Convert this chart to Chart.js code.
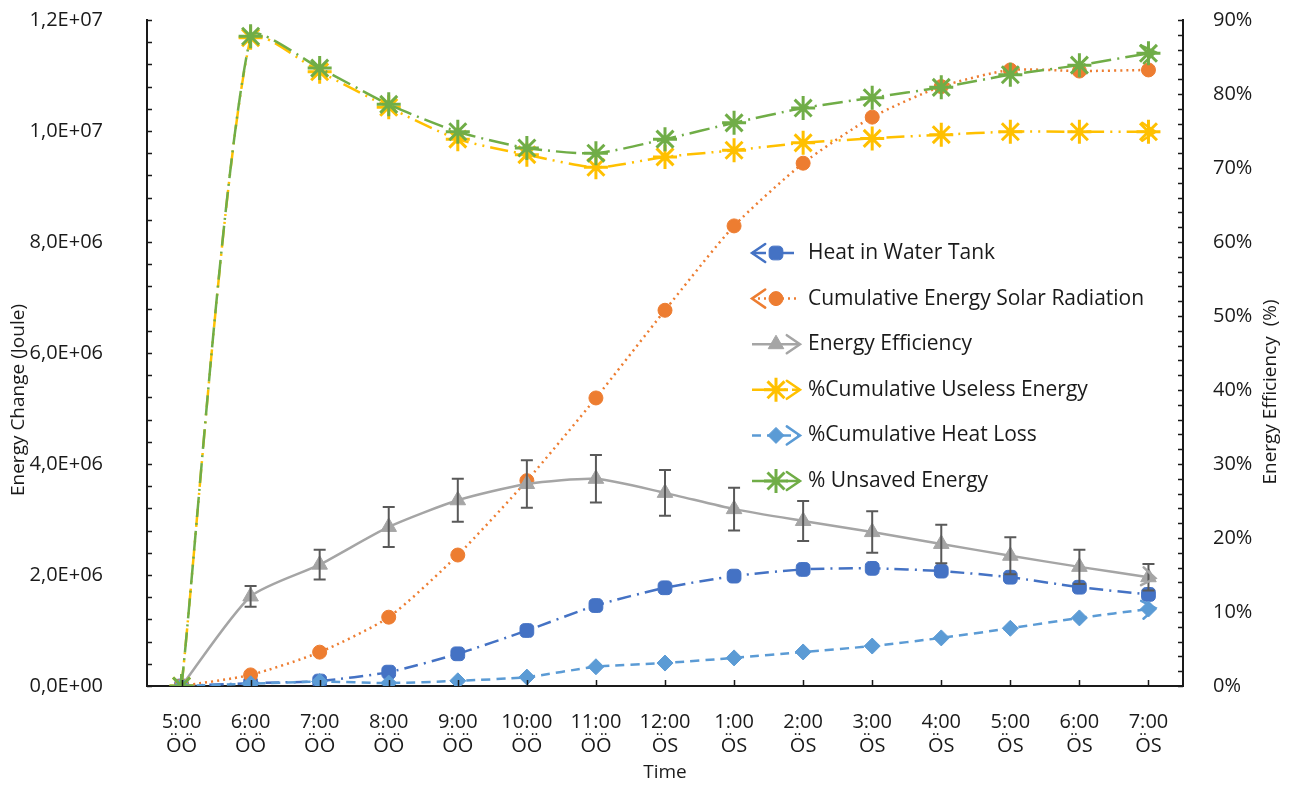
<!DOCTYPE html>
<html>
<head>
<meta charset="utf-8">
<script src="https://cdn.jsdelivr.net/npm/chart.js@4.4.0/dist/chart.umd.min.js"></script>
<style>
  html, body { margin: 0; padding: 0; background: #fff; }
  #wrap { width: 1296px; height: 785px; }
</style>
</head>
<body>
<div id="wrap"><canvas id="energyChart" width="1296" height="785"></canvas></div>
<script>
// categories (hour of day, Turkish ÖÖ = AM, ÖS = PM)
const hours = [
  ["5:00", "ÖÖ"], ["6:00", "ÖÖ"], ["7:00", "ÖÖ"], ["8:00", "ÖÖ"], ["9:00", "ÖÖ"],
  ["10:00", "ÖÖ"], ["11:00", "ÖÖ"], ["12:00", "ÖS"], ["1:00", "ÖS"], ["2:00", "ÖS"],
  ["3:00", "ÖS"], ["4:00", "ÖS"], ["5:00", "ÖS"], ["6:00", "ÖS"], ["7:00", "ÖS"]
];

// left axis, Joule
const heatInTank = [0, 0.05e6, 0.09e6, 0.25e6, 0.58e6, 1.0e6, 1.45e6, 1.77e6, 1.98e6, 2.1e6, 2.12e6, 2.07e6, 1.96e6, 1.78e6, 1.65e6];
const solarCumulative = [0, 0.2e6, 0.61e6, 1.24e6, 2.36e6, 3.7e6, 5.19e6, 6.77e6, 8.29e6, 9.42e6, 10.25e6, 10.8e6, 11.1e6, 11.08e6, 11.1e6];

// right axis, percent
const efficiency = [0, 12.1, 16.4, 21.5, 25.1, 27.3, 28.0, 26.1, 23.9, 22.3, 20.8, 19.2, 17.6, 16.1, 14.7];
const efficiencyErr = [0, 1.4, 2.0, 2.7, 2.9, 3.2, 3.2, 3.1, 2.9, 2.7, 2.8, 2.6, 2.5, 2.3, 1.8];
const uselessPct = [0, 87.6, 83.0, 78.2, 73.9, 71.8, 70.1, 71.5, 72.4, 73.4, 74.0, 74.5, 74.9, 74.9, 74.9];
const heatLossPct = [0, 0.3, 0.6, 0.4, 0.7, 1.2, 2.6, 3.1, 3.8, 4.6, 5.4, 6.5, 7.8, 9.2, 10.4];
const unsavedPct = [0, 87.8, 83.5, 78.6, 74.9, 72.7, 72.0, 73.9, 76.1, 78.1, 79.5, 80.9, 82.6, 83.9, 85.5];

// axis ticks
const leftMax = 1.2e7, leftStep = 2e6, leftMinor = 4e5;
const rightMax = 90, rightStep = 10, rightMinor = 2;

const FONT = "'Open Sans', 'Noto Sans', sans-serif";
const TEXT = "#1a1a1a";

function sci(v) {
  if (v === 0) return "0,0E+00";
  const e = Math.floor(Math.log10(v) + 1e-9);
  const m = v / Math.pow(10, e);
  return m.toFixed(1).replace(".", ",") + "E+" + String(e).padStart(2, "0");
}

function chevron(ctx, x, y, ang, color, width) {
  const len = 16, spread = 0.6;
  ctx.save();
  ctx.setLineDash([]);
  ctx.strokeStyle = color;
  ctx.lineWidth = width;
  ctx.lineCap = "round";
  ctx.beginPath();
  ctx.moveTo(x - len * Math.cos(ang - spread), y - len * Math.sin(ang - spread));
  ctx.lineTo(x, y);
  ctx.lineTo(x - len * Math.cos(ang + spread), y - len * Math.sin(ang + spread));
  ctx.stroke();
  ctx.restore();
}

// error bars on the efficiency series
const errorBars = {
  id: "errorBars",
  afterDatasetsDraw(chart) {
    const ctx = chart.ctx;
    chart.data.datasets.forEach((ds, i) => {
      if (!ds.errors) return;
      const meta = chart.getDatasetMeta(i);
      const sc = chart.scales[ds.yAxisID];
      ctx.save();
      ctx.strokeStyle = "#595959";
      ctx.lineWidth = 2;
      meta.data.forEach((pt, j) => {
        const e = ds.errors[j];
        if (!e) return;
        const top = sc.getPixelForValue(ds.data[j] + e);
        const bot = sc.getPixelForValue(ds.data[j] - e);
        ctx.beginPath();
        ctx.moveTo(pt.x, top); ctx.lineTo(pt.x, bot);
        ctx.moveTo(pt.x - 6, top); ctx.lineTo(pt.x + 6, top);
        ctx.moveTo(pt.x - 6, bot); ctx.lineTo(pt.x + 6, bot);
        ctx.stroke();
      });
      ctx.restore();
    });
  }
};

// open arrow heads on line ends
const lineArrows = {
  id: "lineArrows",
  afterDatasetsDraw(chart) {
    const ctx = chart.ctx;
    chart.data.datasets.forEach((ds, i) => {
      const pts = chart.getDatasetMeta(i).data;
      const n = pts.length;
      if (ds.arrowEnd) {
        const a = Math.atan2(pts[n - 1].y - pts[n - 2].y, pts[n - 1].x - pts[n - 2].x);
        chevron(ctx, pts[n - 1].x + 7 * Math.cos(a), pts[n - 1].y + 7 * Math.sin(a), a, ds.borderColor, 2.5);
      }
    });
  }
};

// inward tick marks, axis titles, legend inside the plot
const decorations = {
  id: "decorations",
  afterDraw(chart) {
    const { ctx, chartArea: a, scales } = chart;
    ctx.save();
    ctx.strokeStyle = "#1a1a1a";
    ctx.lineWidth = 1.5;
    ctx.beginPath();
    for (let v = 0; v <= leftMax + 1; v += leftMinor) {
      const p = Math.round(scales.y.getPixelForValue(v)) + 0.5;
      ctx.moveTo(a.left, p); ctx.lineTo(a.left + 5, p);
    }
    for (let v = 0; v <= rightMax + 0.01; v += rightMinor) {
      const p = Math.round(scales.y1.getPixelForValue(v)) + 0.5;
      ctx.moveTo(a.right, p); ctx.lineTo(a.right - 5, p);
    }
    hours.forEach((h, i) => {
      const p = Math.round(scales.x.getPixelForValue(i)) + 0.5;
      ctx.moveTo(p, a.bottom); ctx.lineTo(p, a.bottom - 6);
    });
    ctx.stroke();

    // axis titles
    ctx.fillStyle = TEXT;
    ctx.font = "19px " + FONT;
    ctx.textAlign = "center";
    ctx.textBaseline = "middle";
    ctx.save();
    ctx.translate(19, 400);
    ctx.rotate(-Math.PI / 2);
    ctx.fillText("Energy Change (Joule)", 0, 0);
    ctx.restore();
    ctx.save();
    ctx.translate(1271, 392);
    ctx.rotate(-Math.PI / 2);
    ctx.fillText("Energy Efficiency  (%)", 0, 0);
    ctx.restore();

    // legend
    const lx0 = 752, lx1 = 800, top = 253, gap = 45.6;
    chart.data.datasets.forEach((ds, i) => {
      const y = top + i * gap;
      ctx.save();
      ctx.strokeStyle = ds.borderColor;
      ctx.lineWidth = ds.borderWidth;
      ctx.setLineDash(ds.borderDash || []);
      ctx.beginPath();
      ctx.moveTo(lx0, y); ctx.lineTo(lx1, y);
      ctx.stroke();
      ctx.restore();
      if (ds.arrowStart) chevron(ctx, lx0, y, Math.PI, ds.borderColor, 2.5);
      if (ds.arrowEnd) chevron(ctx, lx1, y, 0, ds.borderColor, 2.5);
      ctx.save();
      ctx.setLineDash([]);
      ctx.strokeStyle = ds.pointBorderColor;
      ctx.fillStyle = ds.pointBackgroundColor;
      ctx.lineWidth = ds.pointBorderWidth;
      Chart.helpers.drawPoint(ctx, { pointStyle: ds.pointStyle, radius: ds.pointRadius, borderWidth: ds.pointBorderWidth, rotation: 0 }, (lx0 + lx1) / 2, y);
      ctx.restore();
      ctx.fillStyle = TEXT;
      ctx.font = "21px " + FONT;
      ctx.textAlign = "left";
      ctx.textBaseline = "middle";
      ctx.fillText(ds.label, 808, y);
    });
    ctx.restore();
  }
};

function series(label, data, color, axis, style, radius, dash, extra) {
  return Object.assign({
    label: label,
    data: data,
    yAxisID: axis,
    borderColor: color,
    backgroundColor: color,
    borderWidth: 2.5,
    borderDash: dash,
    pointStyle: style,
    pointRadius: radius,
    pointBorderColor: color,
    pointBackgroundColor: color,
    pointBorderWidth: style === "star" ? 3 : 1,
    tension: 0.22,
    fill: false
  }, extra || {});
}

function noOverflow(s) {
  s.paddingTop = 0; s.paddingBottom = 0; s.paddingLeft = 0; s.paddingRight = 0;
}

new Chart(document.getElementById("energyChart"), {
  type: "line",
  data: {
    labels: hours,
    datasets: [
      series("Heat in Water Tank", heatInTank, "#4472C4", "y", "rectRounded", 8, [14, 6, 2, 6], { arrowStart: true, order: 6 }),
      series("Cumulative Energy Solar Radiation", solarCumulative, "#ED7D31", "y", "circle", 7, [2, 4], { arrowStart: true, order: 5 }),
      series("Energy Efficiency", efficiency, "#A5A5A5", "y1", "triangle", 9, [], { arrowEnd: true, errors: efficiencyErr, order: 4 }),
      series("%Cumulative Useless Energy", uselessPct, "#FFC000", "y1", "star", 12, [18, 6, 2, 6, 2, 6], { arrowEnd: true, order: 3 }),
      series("%Cumulative Heat Loss", heatLossPct, "#5B9BD5", "y1", "rectRot", 8, [9, 6], { arrowEnd: true, order: 2 }),
      series("% Unsaved Energy", unsavedPct, "#70AD47", "y1", "star", 12, [20, 6, 2, 6], { arrowEnd: true, order: 1 })
    ]
  },
  options: {
    responsive: false,
    animation: false,
    layout: { padding: { top: 20, left: 0, right: 0, bottom: 0 } },
    plugins: {
      legend: { display: false },
      tooltip: { enabled: false }
    },
    scales: {
      x: {
        type: "category",
        offset: true,
        afterFit: s => { s.height = 99; noOverflow(s); },
        grid: { display: false },
        border: { display: true, color: "#1a1a1a", width: 2 },
        ticks: { color: TEXT, font: { family: FONT, size: 20 }, padding: 16, maxRotation: 0, autoSkip: false },
        title: { display: true, text: "Time", color: TEXT, font: { family: FONT, size: 19 }, padding: { top: 0, bottom: 1 } }
      },
      y: {
        position: "left",
        min: 0,
        max: leftMax,
        afterFit: s => { s.width = 147; noOverflow(s); },
        grid: { display: false },
        border: { display: true, color: "#1a1a1a", width: 2 },
        ticks: { stepSize: leftStep, color: TEXT, font: { family: FONT, size: 20 }, padding: 36, callback: v => sci(v) }
      },
      y1: {
        position: "right",
        min: 0,
        max: rightMax,
        afterFit: s => { s.width = 113; noOverflow(s); },
        grid: { display: false },
        border: { display: true, color: "#1a1a1a", width: 2 },
        ticks: { stepSize: rightStep, color: TEXT, font: { family: FONT, size: 20 }, padding: 22, callback: v => v + "%" }
      }
    }
  },
  plugins: [errorBars, lineArrows, decorations]
});
</script>
</body>
</html>
